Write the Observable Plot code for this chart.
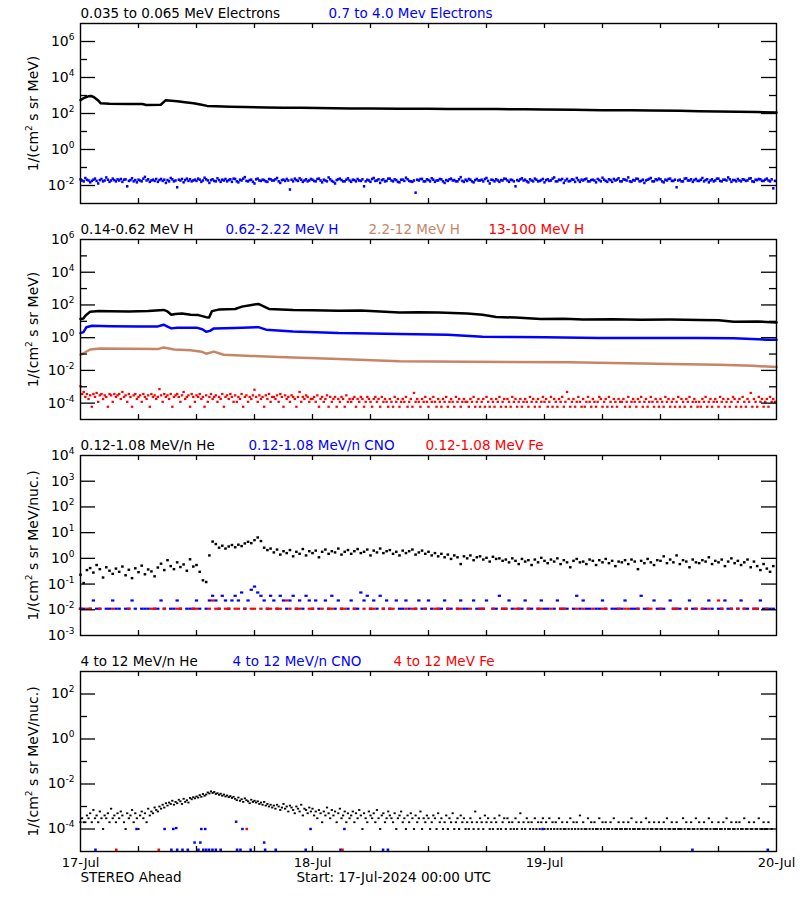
<!DOCTYPE html>
<html><head><meta charset="utf-8">
<script src="https://cdn.jsdelivr.net/npm/d3@7"></script>
<script src="https://cdn.jsdelivr.net/npm/@observablehq/plot@0.6"></script>
<style>
body{margin:0;background:#fff;}
#chart svg{display:block;}
</style></head><body><div id="chart"></div>
<script>
// ---------- time base ----------
const START = Date.UTC(2024, 6, 17);       // 17-Jul-2024 00:00 UTC
const STEP20 = 1 / 3;                       // 20-minute samples (hours)
const STEP10 = 1 / 6;                       // 10-minute samples (hours)

// ---------- labels ----------
const titles1 = ["0.035 to 0.065 MeV Electrons", "0.7 to 4.0 Mev Electrons"];
const titles2 = ["0.14-0.62 MeV H", "0.62-2.22 MeV H", "2.2-12 MeV H", "13-100 MeV H"];
const titles3 = ["0.12-1.08 MeV/n He", "0.12-1.08 MeV/n CNO", "0.12-1.08 MeV Fe"];
const titles4 = ["4 to 12 MeV/n He", "4 to 12 MeV/n CNO", "4 to 12 MeV Fe"];
const yLabelMeV = "1/(cm^2 s sr MeV)";
const yLabelNuc = "1/(cm^2 s sr MeV/nuc.)";
const dayLabels = ["17-Jul", "18-Jul", "19-Jul", "20-Jul"];
const dayHours = [0, 24, 48, 72];
const tickHours = [6, 12, 18, 24, 30, 36, 42, 48, 54, 60, 66];
const footerLeft = "STEREO Ahead";
const footerRight = "Start: 17-Jul-2024 00:00 UTC";

// ---------- panel 1: electrons ----------
const e1Hours = [0,0.4,0.8,1.1,1.4,1.8,2.1,3,5,6.4,6.8,8.3,8.8,10,10.8,11.7,12.4,13.1,14,15.5,17,19.3,21,22.8,24.5,26.2,28,30,33,36,38,41,43,46,48,51,54,57,59,62,64,66,68,70,72];
const e1Flux  = [550,750,900,950,800,550,370,345,340,335,300,305,540,480,420,370,320,265,250,235,228,215,212,208,200,195,192,188,182,183,180,178,176,170,165,160,152,150,145,140,135,131,125,120,114];
// 0.7-4.0 MeV electrons, 10-minute samples, in units of 1e-3 /(cm2 s sr MeV)
const e2Unit = 1e-3;
const e2Milli = [
 22,19,17,26,21,19,15,18,21,24,18,13,20,23,17,19,28,21,16,19,24,20,17,22,
 19,23,16,21,22,9,18,20,25,17,20,15,21,19,17,24,30,19,22,16,19,21,18,23,
 16,20,23,18,21,14,20,17,26,22,17,19,8,21,19,23,15,20,24,18,22,17,19,21,
 18,24,21,16,19,27,22,19,14,20,22,18,17,25,20,16,21,19,23,17,20,22,16,24,
 23,17,15,21,19,24,29,18,17,20,21,16,13,22,24,19,18,21,20,17,16,23,22,19,
 19,22,26,17,14,20,21,18,23,19,6,21,17,24,20,18,25,21,16,19,22,17,19,23,
 21,18,17,23,24,19,15,21,19,17,28,22,18,16,13,20,22,24,20,17,17,21,25,19,
 16,21,20,17,23,19,18,22,9,17,21,19,16,23,26,18,19,22,14,20,22,17,18,24,
 24,19,17,22,20,16,15,21,21,18,27,22,18,17,16,19,4,21,19,23,23,17,17,22,
 20,17,25,21,16,19,19,23,22,17,14,20,18,22,24,19,20,17,17,22,29,18,16,21,
 18,23,21,17,15,20,23,19,19,21,17,23,26,18,13,21,20,17,22,19,16,20,19,24,
 23,19,16,21,20,17,9,20,18,22,25,19,21,17,15,22,19,17,24,21,17,18,20,23,
 15,20,22,18,19,24,28,17,17,21,20,23,14,19,23,17,18,22,21,16,26,20,16,21,
 19,22,24,17,17,20,21,19,15,23,20,17,27,21,18,16,22,20,16,23,19,21,25,17,
 17,22,21,19,28,17,16,20,19,24,23,17,18,21,14,19,21,23,26,17,17,22,20,24,
 22,17,15,21,19,23,24,18,18,21,8,19,21,17,17,24,25,19,19,22,16,20,23,18,
 18,21,26,17,20,22,15,19,22,17,19,24,24,18,17,21,21,19,28,22,16,20,20,17,
 23,19,17,22,21,18,19,24,25,17,16,21,20,23,22,18,18,21,24,19,17,22,7,18];

// ---------- panel 2: protons ----------
const h1Hours = [0,0.3,0.5,1.0,1.9,3,5,7,8.6,9.0,9.4,9.8,10.5,11.4,12.2,13.0,13.3,13.6,14.3,16,16.7,17.7,18.4,19,19.5,22,24,26.7,29,31,33,35,37,40,41.6,43,45,47.6,50,52,55,58,61,64,66,67.6,70,72];
const h1Flux  = [14,15,22,39,42,41,40,42,50,40,25,28,30,25,24,18,17,42,52,57,79,100,115,79,57,50,48,44,46,40,35,36,34,30,25,18.5,17,14,14.5,13,13.5,12.5,12.8,12,11.5,9.5,9.8,8.5];
const h2Hours = [0,0.3,0.6,1.2,3,6,8,8.6,9.0,9.4,10,12,12.6,13.0,13.4,13.8,16,18.4,19.2,22,26.7,30,33,38,41.6,45,48,53.7,60,64,67.6,71,72];
const h2Flux  = [1.9,2.2,4.3,5.4,5.0,4.8,4.9,6.2,4.8,3.7,4.1,4.1,3.3,2.3,2.6,3.7,3.9,4.4,3.1,2.4,1.9,1.8,1.7,1.5,1.16,1.1,1.05,0.96,0.94,0.95,0.92,0.76,0.74];
const h3Hours = [0,0.4,1,2,5,8,8.6,9.7,11.4,12.5,13,13.8,14.8,17.7,20.5,26.7,33,40,50.5,61,66,69.6,72];
const h3Flux  = [0.091,0.12,0.19,0.22,0.21,0.2,0.25,0.19,0.17,0.14,0.105,0.14,0.09,0.077,0.066,0.05,0.036,0.034,0.031,0.025,0.022,0.019,0.016];
// 13-100 MeV H, 10-minute samples, counts; one count = 6e-5 /(cm2 s sr MeV)
const h4Unit = 6e-5;
const h4Counts = [
 18,6,8,4,6,3,5,1,6,4,7,2,5,6,3,5,4,1,6,5,2,6,4,5,
 6,3,8,4,5,2,6,4,1,5,6,3,4,5,2,6,4,3,5,1,6,4,5,3,
 4,12,5,2,6,4,5,3,6,1,4,5,6,4,2,5,8,3,4,5,1,6,4,2,
 5,4,6,3,4,1,5,2,4,6,3,4,5,2,4,3,6,1,4,5,3,6,4,2,
 5,2,4,3,6,1,4,5,2,4,3,5,11,4,2,5,3,4,1,5,3,6,2,4,
 4,3,5,2,6,4,1,5,3,4,2,5,4,3,1,4,8,2,4,3,5,4,2,3,
 3,4,2,5,1,3,4,2,3,5,1,4,2,3,4,1,3,2,4,3,1,5,2,3,
 2,3,4,1,3,2,4,3,1,2,4,3,2,1,3,4,2,3,1,4,2,3,2,1,
 3,2,1,4,2,3,1,2,3,2,4,1,2,3,1,7,2,3,2,1,3,2,4,2,
 1,3,2,4,2,1,3,2,1,3,2,4,1,2,3,2,1,4,2,3,1,2,3,2,
 2,1,3,2,4,1,2,3,1,2,3,1,4,2,1,3,2,1,3,2,4,1,2,3,
 1,3,2,1,4,2,3,1,2,3,1,2,3,2,1,4,2,3,1,2,3,1,2,4,
 2,3,1,2,4,1,3,2,1,3,2,4,1,2,8,3,1,2,3,1,2,4,2,1,
 3,1,2,4,2,1,3,2,1,2,4,3,1,2,3,1,4,2,1,3,2,1,3,2,
 2,3,1,2,4,1,2,3,2,1,3,2,4,1,2,3,1,2,4,2,1,3,2,1,
 3,2,1,4,2,3,1,2,3,1,2,4,1,3,2,1,3,2,4,1,2,3,2,1,
 2,1,3,2,4,1,2,3,1,2,3,2,1,4,2,3,1,2,3,1,2,4,3,1,
 2,3,1,4,2,1,3,2,7,1,3,2,1,4,2,3,1,2,3,1,4,2,3,2];

// ---------- panel 3: 0.12-1.08 MeV/n ions, 20-minute samples (0 = no counts) ----------
const he1Flux = [
 .23,.11,.35,.42,.28,.55,.38,.18,.45,.33,.25,.40,
 .30,.48,.22,.36,.17,.41,.29,.52,.24,.37,.31,.20,
 .44,.62,.35,.85,.50,.38,.70,.46,.58,.33,.92,.48,
 .55,.30,.14,.12,1.3,4.5,3.6,2.6,3.1,2.4,2.9,3.3,
 2.7,3.4,3.0,3.8,4.4,3.9,5.1,6.5,4.7,2.6,2.1,2.4,
 1.7,2.2,1.4,1.9,1.6,2.1,1.2,1.8,1.5,2.3,1.3,1.9,
 1.6,2.0,1.1,1.8,2.2,1.5,1.9,1.7,2.4,1.4,1.8,2.1,
 1.5,1.9,2.3,1.6,1.8,2.2,1.3,2.0,1.7,2.4,1.6,1.9,
 2.1,1.5,1.8,1.3,2.0,1.6,1.9,2.2,1.4,1.7,2.0,1.5,
 1.8,1.3,1.6,1.2,1.5,1.1,1.4,.95,1.3,1.1,.6,1.2,
 1.0,1.3,.85,1.1,1.2,.9,1.05,.75,1.15,.95,1.0,.8,
 .9,.7,1.0,.8,.6,.95,.75,.85,.55,.9,.7,1.05,
 .8,.65,.9,.75,1.0,.6,.85,.7,.45,.8,.95,.7,
 .75,.6,.9,.8,.55,.85,.7,.95,.65,.8,.5,.75,
 .7,.85,.6,.9,.75,.38,.8,.65,.95,.7,.55,.85,
 .8,1.2,.65,.9,.7,1.3,.6,.85,.75,.45,.9,.7,
 .65,.85,.75,1.1,.6,.8,.7,.9,.5,.75,1.0,.65,
 .8,.55,.7,.9,.45,.75,.5,.35,.6,.4,.3,.5];
const cno1Flux = [
 .011,.011,0,.011,.023,.011,.011,0,.011,.011,.023,.011,
 .011,0,.011,.011,.023,.011,0,.011,.011,.011,0,.011,
 .011,.023,.011,0,.011,.011,.023,.011,0,.011,.011,.011,
 .023,.011,0,.011,.023,.035,.023,.011,.035,.023,.011,.023,
 .035,.023,.047,.011,.023,.06,.08,.047,.035,.023,.011,.035,
 .023,.011,.035,.023,.011,.023,.035,.011,.023,.011,.035,.023,
 .011,.023,.011,0,.023,.011,.035,.011,.023,.011,0,.011,
 .023,.011,.011,.047,.023,.035,.011,.023,.011,.035,.011,.023,
 .011,0,.023,.011,.011,.023,.011,0,.011,.023,.011,.011,
 .023,.011,0,.011,.011,.023,.011,.011,0,.011,.023,.011,
 .011,0,.023,.011,.011,.011,.023,0,.011,.011,.035,.011,
 .011,.023,.011,0,.011,.011,.023,.011,.011,0,.011,.023,
 .011,.011,0,.011,.023,.011,.011,.011,0,.011,.035,.011,
 .023,.011,.011,0,.011,.011,.023,.011,0,.011,.011,.011,
 .011,.023,0,.011,.011,.011,.035,.011,.011,0,.023,.011,
 .011,.011,0,.023,.011,.011,.011,0,.011,.023,.011,.011,
 0,.011,.011,.023,.011,0,.011,.011,.023,.011,.011,0,
 .011,.023,.011,.011,0,.011,.011,.023,.011,.011,.011,.011];
const fe1Flux = [
 .011,0,.011,.011,0,0,.011,0,0,0,.011,0,
 0,0,0,.011,0,0,0,0,0,0,.011,.011,
 0,0,.011,0,0,0,.011,.011,0,0,0,.011,
 .011,0,0,0,.011,.023,.011,.011,0,.011,.011,0,
 .011,.011,0,.011,0,.011,.011,0,.011,0,.011,.011,
 0,.011,.011,0,.023,.011,0,.011,.011,0,0,.011,
 .011,0,0,.011,0,.011,.011,0,0,.011,.011,0,
 0,.011,0,0,.011,0,.011,.011,0,0,.011,0,
 .011,.011,0,0,0,.011,0,.011,.011,0,0,.011,
 0,0,.011,.011,0,0,.011,0,0,.011,.011,0,
 0,.011,0,0,.011,.011,0,0,.011,0,0,.011,
 .011,0,0,.011,.011,0,0,.011,0,0,.011,.011,
 0,0,.011,0,0,.011,.011,0,0,0,.011,0,
 .011,0,0,.011,0,0,.011,.011,0,0,0,.011,
 0,.011,.011,0,0,.011,0,0,.011,.011,0,0,
 .011,0,0,0,.011,.011,0,0,.011,0,0,.011,
 0,.011,0,.011,0,0,.023,.011,0,0,.011,0,
 .011,0,.011,0,0,.011,.011,0,0,.011,0,0];

// ---------- panel 4: 4-12 MeV/n ions ----------
// He, 10-minute samples, counts; one count = 1e-4 /(cm2 s sr MeV/nuc.)
const he2Unit = 1e-4;
const he2Counts = [
 2,3,2,2,4,3,5,2,7,3,4,2,6,3,1,4,3,5,2,8,3,4,2,5,
 3,6,4,2,1,5,3,4,7,2,5,3,1,4,6,3,5,2,8,4,6,5,9,7,
 6,10,8,12,9,14,11,15,13,18,12,16,14,20,17,13,22,16,19,15,24,21,26,23,
 28,25,32,27,36,30,34,42,38,47,40,44,36,39,33,37,30,34,28,31,26,29,24,27,
 22,19,25,18,21,16,23,19,17,14,20,16,18,15,17,13,15,12,16,11,13,10,12,9,
 11,8,12,10,7,9,13,8,10,6,11,9,7,5,10,8,6,12,4,8,7,5,9,6,
 8,4,6,3,7,5,2,6,4,9,5,3,7,4,6,2,5,8,3,4,6,2,5,3,
 4,6,2,5,3,7,4,1,5,3,2,6,4,3,5,2,7,3,1,4,5,2,3,6,
 4,3,2,5,1,3,4,6,2,3,1,4,2,5,3,1,4,2,3,6,1,3,2,4,
 3,1,2,4,3,1,5,2,3,1,2,4,1,3,2,5,1,2,3,1,4,2,3,1,
 2,1,3,2,1,6,2,1,3,2,1,4,2,3,1,2,1,3,2,1,4,1,2,3,
 1,3,2,1,2,1,3,1,2,5,1,2,1,3,2,1,2,1,3,1,2,1,2,3,
 1,2,1,3,1,2,1,2,1,3,1,2,1,1,2,1,3,1,2,1,2,1,4,1,
 2,1,1,3,1,2,1,2,1,1,3,1,2,1,2,1,1,2,1,3,1,1,2,1,
 1,2,1,1,2,1,3,1,1,2,1,1,2,1,1,3,1,2,1,1,2,1,1,2,
 1,1,2,1,3,1,1,2,1,1,2,1,1,1,3,1,2,1,1,2,1,1,3,1,
 2,1,1,2,1,1,3,1,2,1,1,1,2,1,1,2,1,3,1,1,2,1,1,2,
 1,2,1,1,3,1,1,2,1,1,2,1,1,3,1,1,2,1,1,2,0,1,0,0];
const cno2Hours = [1.55,9.4,10.0,10.55,11.1,12.2,12.7,13.0,13.3,13.65,14.0,14.5,16.2,16.55,17.6,19.1,20.2,23.3,26.9,31.3,31.8,63.3,71.1,
                   11.8,12.4,19.0,
                   5.8,8.7,9.6,9.9,12.5,12.9,16.75,23.8,27.3,47.8,
                   16.1];
const cno2Flux  = [1.2e-5,1.2e-5,1.2e-5,1.2e-5,1.2e-5,1.2e-5,1.2e-5,1.2e-5,1.2e-5,1.2e-5,1.2e-5,1.2e-5,1.2e-5,1.2e-5,1.2e-5,1.2e-5,1.2e-5,1.2e-5,1.2e-5,1.2e-5,1.2e-5,1.2e-5,1.2e-5,
                   2.5e-5,2.5e-5,2.5e-5,
                   1e-4,1e-4,1e-4,1.1e-4,1e-4,1e-4,1e-4,1e-4,1e-4,1e-4,
                   2.1e-4];
const fe2Hours = [3.7, 8.1, 27.1, 17.2];
const fe2Flux  = [1.2e-5, 1.2e-5, 1.2e-5, 1e-4];

// ---------- colours ----------
const BLACK = "#000000", BLUE = "#0000ff", BROWN = "#c98466", RED = "#ff0000";

// ---------- helpers ----------
const t = h => new Date(START + h * 3600e3);
const END = t(72);
const paired = (hours, flux) => hours.map((h, i) => ({t: t(h), v: flux[i]}));
const sampled = (values, step, unit = 1) =>
  values.map((v, i) => ({t: t(i * step), v: v * unit})).filter(d => d.v > 0 && d.t <= END);
const pow10Label = e => "10^" + e;

const W = 800, ML = 80, MR = 24, MT = 23, INNER_H = 180;
const innerW = W - ML - MR;
const FONT = "DejaVu Sans";

// small rectangular "pixel" symbol, like the dots of the original plot
const pixel = (w, h) => ({draw(ctx) { ctx.rect(-w / 2, -h / 2, w, h); }});

function dots(data, color, w = 2.2, h = 2.2) {
  return Plot.dot(data, {x: "t", y: "v", symbol: pixel(w, h), r: 1, fill: color, stroke: "none"});
}
function line(data, color) {
  return Plot.line(data, {x: "t", y: "v", stroke: color, strokeWidth: 2.5});
}

// turn "a^b rest" into text with a raised exponent
function superscripts(svg) {
  d3.select(svg).selectAll("text").each(function () {
    const s = this.textContent;
    const m = s.match(/^(.*?)\^(-?\d+)(.*)$/);
    if (!m) return;
    const sel = d3.select(this);
    const big = parseFloat(sel.attr("font-size")) || 13;
    sel.text(null);
    sel.append("tspan").text(m[1]);
    sel.append("tspan").attr("dy", -Math.round(big * 0.45)).attr("font-size", Math.round(big * 0.72)).text(m[2]);
    if (m[3]) sel.append("tspan").attr("dy", Math.round(big * 0.45)).text(m[3]);
  });
  return svg;
}

function panel({height, mb, exps, labelExps, majorExps, minorExps, yLabel, titles, colors, offsets, marks, bottom}) {
  const extra = [];
  if (bottom) {
    extra.push(Plot.axisX(dayHours.map(t), {anchor: "bottom", tickSize: 0, tickPadding: 6,
      tickFormat: (d, i) => dayLabels[i], fontSize: 13, label: null}));
    extra.push(Plot.text([footerLeft], {text: d => d, frameAnchor: "bottom-left", dy: 30, textAnchor: "start", fontSize: 13.5}));
    extra.push(Plot.text([footerRight], {text: d => d, frameAnchor: "bottom-left", dx: 216, dy: 30, textAnchor: "start", fontSize: 13.5}));
  }
  const svg = Plot.plot({
    width: W, height,
    marginLeft: ML, marginRight: MR, marginTop: MT, marginBottom: mb,
    style: {fontFamily: FONT, fontSize: "13px", background: "white", color: "black", overflow: "visible"},
    x: {type: "utc", domain: [t(0), END], axis: null},
    y: {type: "log", domain: [10 ** exps[0], 10 ** exps[1]], axis: null},
    marks: [
      ...marks,
      Plot.tickY(majorExps, {y: e => 10 ** e, insetRight: innerW - 15, stroke: "black", strokeWidth: 1.3}),
      Plot.tickY(majorExps, {y: e => 10 ** e, insetLeft: innerW - 15, stroke: "black", strokeWidth: 1.3}),
      Plot.tickY(minorExps, {y: e => 10 ** e, insetRight: innerW - 7, stroke: "black", strokeWidth: 1.3}),
      Plot.tickY(minorExps, {y: e => 10 ** e, insetLeft: innerW - 7, stroke: "black", strokeWidth: 1.3}),
      Plot.tickX(tickHours, {x: h => t(h), insetBottom: INNER_H - 5, stroke: "black", strokeWidth: 1.3}),
      Plot.tickX(tickHours, {x: h => t(h), insetTop: INNER_H - 5, stroke: "black", strokeWidth: 1.3}),
      Plot.axisY(labelExps.map(e => 10 ** e), {anchor: "left", tickSize: 0, tickPadding: 6,
        tickFormat: d => pow10Label(Math.round(Math.log10(d))), fontSize: 14, label: null}),
      Plot.text([yLabel], {text: d => d, frameAnchor: "left", dx: -47, rotate: -90, fontSize: 14, textAnchor: "middle"}),
      ...titles.map((s, i) => Plot.text([s], {text: d => d, frameAnchor: "top-left", dx: offsets[i], dy: -10,
        textAnchor: "start", lineAnchor: "middle", fill: colors[i], fontSize: 13.5})),
      Plot.frame({stroke: "black", strokeWidth: 1.4}),
      ...extra
    ]
  });
  return superscripts(svg);
}

const root = document.getElementById("chart");

root.append(panel({
  height: 216, mb: 13, exps: [-3, 7],
  labelExps: [6, 4, 2, 0, -2], majorExps: [6, 4, 2, 0, -2], minorExps: [5, 3, 1, -1],
  yLabel: yLabelMeV, titles: titles1, colors: [BLACK, BLUE], offsets: [0, 248],
  marks: [line(paired(e1Hours, e1Flux), BLACK), dots(sampled(e2Milli, STEP10, e2Unit), BLUE, 2.4, 2.6)]
}));

root.append(panel({
  height: 216, mb: 13, exps: [-5, 6],
  labelExps: [6, 4, 2, 0, -2, -4], majorExps: [4, 2, 0, -2, -4], minorExps: [5, 3, 1, -1, -3],
  yLabel: yLabelMeV, titles: titles2, colors: [BLACK, BLUE, BROWN, RED], offsets: [0, 145, 288, 408],
  marks: [line(paired(h1Hours, h1Flux), BLACK), line(paired(h2Hours, h2Flux), BLUE),
          line(paired(h3Hours, h3Flux), BROWN), dots(sampled(h4Counts, STEP10, h4Unit), RED, 2.4, 2.2)]
}));

root.append(panel({
  height: 216, mb: 13, exps: [-3, 4],
  labelExps: [4, 3, 2, 1, 0, -1, -2, -3], majorExps: [3, 2, 1, 0, -1, -2], minorExps: [],
  yLabel: yLabelNuc, titles: titles3, colors: [BLACK, BLUE, RED], offsets: [0, 168, 345],
  marks: [dots(sampled(he1Flux, STEP20), BLACK, 2.6, 2.4), dots(sampled(cno1Flux, STEP20), BLUE, 3.3, 2.2), dots(sampled(fe1Flux, STEP20), RED, 3.3, 2.2)]
}));

root.append(panel({
  height: 252, mb: 49, exps: [-5, 3], bottom: true,
  labelExps: [2, 0, -2, -4], majorExps: [2, 0, -2, -4], minorExps: [1, -1, -3],
  yLabel: yLabelNuc, titles: titles4, colors: [BLACK, BLUE, RED], offsets: [0, 152, 313],
  marks: [dots(sampled(he2Counts, STEP10, he2Unit), BLACK, 2.2, 1.8), dots(paired(cno2Hours, cno2Flux), BLUE, 2.6, 2.4), dots(paired(fe2Hours, fe2Flux), RED, 2.6, 2.4)]
}));
</script>
</body></html>
